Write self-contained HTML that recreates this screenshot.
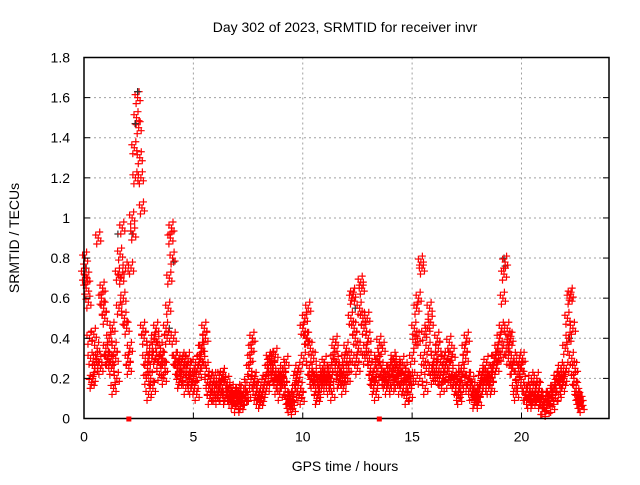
<!DOCTYPE html>
<html><head><meta charset="utf-8"><style>
body{margin:0;background:#fff}
svg text{font-family:"Liberation Sans",sans-serif;fill:#000}
</style></head><body>
<svg id="chart" width="640" height="480" viewBox="0 0 640 480" xmlns="http://www.w3.org/2000/svg">
<rect width="640" height="480" fill="#fff"/>
<text x="345" y="32" font-size="14" text-anchor="middle">Day 302 of 2023, SRMTID for receiver invr</text>
<text transform="translate(19,238) rotate(-90)" font-size="14" text-anchor="middle">SRMTID / TECUs</text>
<text x="345" y="471" font-size="14" text-anchor="middle">GPS time / hours</text>
<g id="grid"></g><g id="marks"></g><g id="axes"></g>
</svg>
<script>
const xTicks=[0,5,10,15,20];
const yTicks=[0,0.2,0.4,0.6,0.8,1,1.2,1.4,1.6,1.8];
const yTickLabels=["0","0.2","0.4","0.6","0.8","1","1.2","1.4","1.6","1.8"];
const stepHours=0.1;
const redA=[.72,.65,.58,.30,.20,.25,.35,.28,.60,.55,
.35,.30,.28,.45,.35,.20,.55,.70,.60,.75,
.30,.35,1.0,1.35,1.50,1.45,1.2,.45,.30,.25,
.35,.30,.40,.45,.28,.35,.30,.25,.40,.70,
.95,.40,.30,.25,.20,.30,.28,.25,.20,.15,
.20,.28,.25,.30,.35,.45,.25,.15,.20,.12,
.12,.10,.15,.20,.18,.12,.15,.10,.08,.12,
.10,.12,.08,.15,.10,.12,.30,.40,.20,.15,
.12,.10,.15,.20,.25,.28,.30,.22,.15,.20,
.22,.25,.15,.10,.06,.08,.12,.20,.25,.15,
.45,.50,.40,.25,.20,.30,.15,.12,.18,.25,
.28,.22,.15,.20,.30,.38,.25,.20,.22,.30,
.35,.25,.50,.62,.40,.25,.55,.65,.45,.35,
.40,.25,.22,.18,.30,.38,.25,.20,.22,.18,
.25,.22,.28,.18,.25,.20,.15,.25,.20,.12,
.30,.45,.55,.60,.78,.30,.15,.45,.55,.25,
.30,.25,.35,.28,.20,.25,.30,.38,.22,.18,
.15,.12,.18,.22,.35,.40,.20,.12,.15,.10,
.12,.15,.22,.20,.28,.15,.20,.25,.30,.35,
.40,.45,.72,.35,.30,.40,.25,.15,.22,.30,
.25,.18,.12,.10,.15,.08,.12,.20,.15,.10,
.05,.10,.08,.12,.06,.15,.20,.12,.25,.18,
.35,.50,.60,.30,.20,.15,.10,.08];
const redB=[.80,.70,.40,.18,.42,.30,.90,.25,.65,.50,
.30,.40,.25,.15,.30,.72,.82,.95,.50,.45,
.25,.75,.92,1.2,1.6,1.3,1.05,.40,.20,.12,
.20,.15,.30,.38,.22,.30,.20,.45,.55,.90,
.80,.30,.25,.18,.28,.22,.15,.30,.25,.18,
.15,.12,.22,.35,.28,.40,.18,.10,.15,.20,
.20,.15,.12,.22,.10,.18,.12,.14,.10,.06,
.14,.06,.12,.10,.18,.25,.35,.18,.12,.10,
.08,.12,.18,.15,.30,.20,.25,.32,.18,.12,
.18,.20,.28,.08,.10,.05,.15,.22,.12,.10,
.30,.40,.55,.35,.18,.22,.10,.20,.15,.22,
.20,.18,.25,.12,.35,.28,.18,.25,.15,.20,
.20,.30,.60,.45,.30,.35,.68,.50,.30,.50,
.30,.20,.15,.12,.28,.22,.35,.18,.15,.25,
.15,.30,.20,.24,.15,.28,.22,.10,.18,.20,
.20,.38,.40,.20,.75,.42,.25,.35,.48,.20,
.22,.40,.20,.15,.30,.22,.18,.28,.32,.20,
.20,.10,.25,.15,.30,.20,.15,.18,.08,.12,
.08,.20,.15,.25,.18,.22,.15,.30,.25,.30,
.32,.60,.78,.45,.38,.25,.30,.12,.18,.25,
.30,.12,.15,.08,.20,.10,.15,.12,.08,.05,
.08,.04,.12,.10,.15,.10,.18,.22,.15,.20,
.25,.40,.62,.45,.25,.12,.08,.06];
const blackHours=[2.45,2.35,2.2,1.55,4.1,19.2,19.25,12.4,22.2,10.2,3.9,0.1,7.7];
const blackValues=[1.63,1.47,0.92,0.92,0.78,0.80,0.76,0.55,0.40,0.40,0.45,0.75,0.40];
const markerHours=[2.05,13.5];

const L=84,R=609,T=57.5,B=418.5,XMAX=24,YMAX=1.8;
const xs=h=>L+h/XMAX*(R-L);
const ys=v=>B-v/YMAX*(B-T);
const NS="http://www.w3.org/2000/svg";
function mk(tag,attrs,parent){const e=document.createElementNS(NS,tag);for(const k in attrs)e.setAttribute(k,attrs[k]);parent.appendChild(e);return e;}
const grid=document.getElementById('grid'),marks=document.getElementById('marks'),axes=document.getElementById('axes');
xTicks.forEach(t=>{
 if(t>0){const g=mk('line',{x1:xs(t),x2:xs(t),y1:T,y2:B,stroke:'#a0a0a0','stroke-dasharray':'2,3'},grid);
 
 }
 const tk=mk('line',{x1:xs(t),x2:xs(t),y1:B,y2:B-6,stroke:'#000'},axes);
 
 
 const tx=mk('text',{x:xs(t),y:B+23,'font-size':14,'text-anchor':'middle'},axes);tx.textContent=t;
 
 
});
yTicks.forEach((t,i)=>{
 if(t>0&&t<YMAX){const g=mk('line',{x1:L,x2:R,y1:ys(t),y2:ys(t),stroke:'#a0a0a0','stroke-dasharray':'2,3'},grid);
 
 }
 const tk=mk('line',{x1:L,x2:L+6,y1:ys(t),y2:ys(t),stroke:'#000'},axes);
 
 
 const tk2=mk('line',{x1:R,x2:R-6,y1:ys(t),y2:ys(t),stroke:'#000'},axes);
 
 
 const tx=mk('text',{x:L-14,y:ys(t)+5,'font-size':14,'text-anchor':'end'},axes);tx.textContent=yTickLabels[i];
 
 
});
const frame=mk('rect',{x:L,y:T,width:R-L,height:B-T,fill:'none',stroke:'#000','stroke-width':1.5},axes);


// each reading is drawn as a small cluster of crosses to mimic the dense per-satellite scatter
const clusterOffsets=[[0,0],[1.5,-6],[-1.5,6],[2.5,3],[-2.5,-3]];
function plus(h,v,col,name,cluster){
 const x0=xs(h),y0=ys(v);
 (cluster?clusterOffsets:[[0,0]]).forEach(o=>{
  const x=x0+o[0],y=Math.min(B,y0+o[1]);
  const p=mk('path',{d:`M${x-3.5},${y}H${x+3.5}M${x},${y-3.5}V${y+3.5}`,stroke:col,'stroke-width':1.2,fill:'none'},marks);
  
  
 });
}
blackHours.forEach((h,i)=>plus(h,blackValues[i],'#333','black-point',false));
redA.forEach((v,i)=>plus(i*stepHours,v,'#f00','red-point',true));
redB.forEach((v,i)=>plus(i*stepHours+stepHours/2,v,'#f00','red-point',true));
blackHours.slice(0,2).forEach((h,i)=>plus(h,blackValues[i],'#333','black-point',false));
markerHours.forEach(h=>{
 const r=mk('rect',{x:xs(h)-2.5,y:B-2,width:5,height:5,fill:'#f00'},axes);
 
 
});
</script>
</body></html>
